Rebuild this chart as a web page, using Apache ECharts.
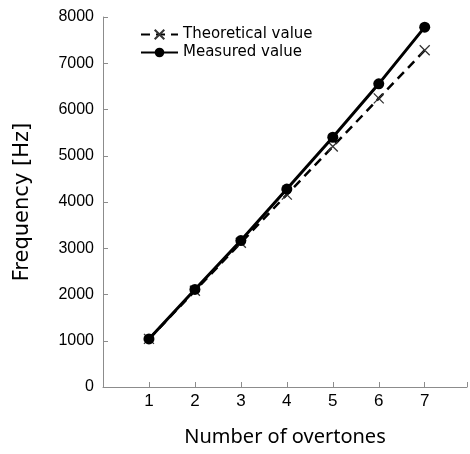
<!DOCTYPE html>
<html>
<head>
<meta charset="utf-8">
<script src="https://cdn.jsdelivr.net/npm/echarts@6/dist/echarts.min.js"></script>
<style>
  html, body { margin: 0; padding: 0; background: #fff; }
  #chart { width: 470px; height: 454px; }
</style>
</head>
<body>
<div id="chart"></div>
<script>
// Overtone number vs. frequency
const overtones = [1, 2, 3, 4, 5, 6, 7];
const theoretical = [1040, 2080, 3120, 4160, 5200, 6240, 7280];
const measured = [1040, 2110, 3165, 4280, 5400, 6555, 7780];
const yTicks = [0, 1000, 2000, 3000, 4000, 5000, 6000, 7000, 8000];

const toPairs = (xs, ys) => xs.map((x, i) => [x, ys[i]]);
const crossPath = 'path://M0,0 L10,10 M10,0 L0,10';

const chart = echarts.init(document.getElementById('chart'), null, { renderer: 'canvas' });
chart.setOption({
  backgroundColor: '#ffffff',
  animation: false,
  grid: { left: 103, right: 0, top: 17, bottom: 67 },
  legend: {
    orient: 'vertical',
    left: 135,
    top: 22,
    itemWidth: 37,
    itemHeight: 12,
    itemGap: 3,
    textStyle: { fontFamily: 'DejaVu Sans', fontSize: 15, color: '#000' },
    data: ['Theoretical value', 'Measured value']
  },
  xAxis: {
    type: 'value',
    min: 0,
    max: 7.92,
    interval: 1,
    name: 'Number of overtones',
    nameLocation: 'middle',
    nameGap: 40,
    nameTextStyle: { fontFamily: 'Noto Sans', fontSize: 20, color: '#000' },
    axisLine: { lineStyle: { color: '#8c8c8c', width: 1 } },
    axisTick: { inside: true, length: 5, lineStyle: { color: '#8c8c8c' } },
    axisLabel: {
      margin: 6,
      fontFamily: 'Liberation Sans',
      fontSize: 17,
      color: '#000',
      formatter: v => (overtones.includes(v) ? String(v) : '')
    },
    splitLine: { show: false }
  },
  yAxis: {
    type: 'value',
    min: yTicks[0],
    max: yTicks[yTicks.length - 1],
    interval: 1000,
    name: 'Frequency [Hz]',
    nameLocation: 'middle',
    nameRotate: 90,
    nameGap: 70,
    nameTextStyle: { fontFamily: 'DejaVu Sans', fontSize: 21, color: '#000' },
    axisLine: { show: true, lineStyle: { color: '#8c8c8c', width: 1 } },
    axisTick: { show: true, inside: true, length: 5, lineStyle: { color: '#8c8c8c' } },
    axisLabel: {
      margin: 9,
      fontFamily: 'Liberation Sans',
      fontSize: 16,
      color: '#000',
      formatter: v => String(v)
    },
    splitLine: { show: false }
  },
  series: [
    {
      name: 'Theoretical value',
      type: 'line',
      data: toPairs(overtones, theoretical),
      symbol: crossPath,
      symbolSize: 10,
      itemStyle: { color: 'none', borderColor: '#333', borderWidth: 1.3 },
      lineStyle: { color: '#000', width: 2.5, type: [9, 6] },
      z: 2
    },
    {
      name: 'Measured value',
      type: 'line',
      data: toPairs(overtones, measured),
      symbol: 'circle',
      symbolSize: 11,
      itemStyle: { color: '#000' },
      lineStyle: { color: '#000', width: 3 },
      z: 3
    }
  ]
});
</script>
</body>
</html>
